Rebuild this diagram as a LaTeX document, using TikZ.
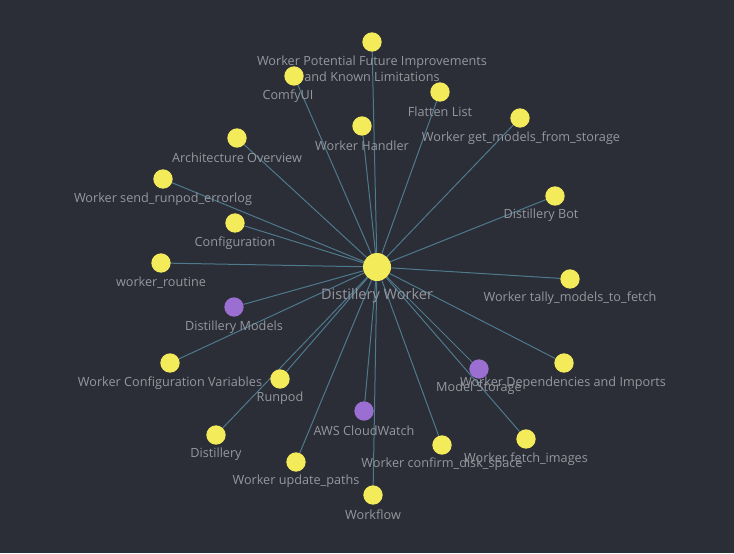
\documentclass[tikz,border=0pt]{standalone}
\usepackage{fontspec}
\setmainfont{Open Sans}
\usepackage{xcolor}
\usepackage{tikz}
\usetikzlibrary{positioning}
\definecolor{bgdark}{HTML}{2B2D37}
\definecolor{edgeblue}{HTML}{4E7A8C}
\definecolor{labelgrey}{HTML}{9698A0}
\definecolor{docyellow}{HTML}{F4EB5A}
\definecolor{grouppurple}{HTML}{9B6ED2}
\pgfdeclarelayer{edges}
\pgfsetlayers{edges,main}
\tikzset{
  doc/.style={circle, fill=docyellow, inner sep=0pt, minimum size=14.5pt},
  grp/.style={doc, fill=grouppurple},
  hub/.style={doc, minimum size=21pt},
  lbl/.style={text=labelgrey, font=\fontsize{9.5}{12}\selectfont, inner sep=0pt, align=center},
  hublbl/.style={lbl, font=\fontsize{10.9}{13}\selectfont},
  link/.style={draw=edgeblue, line width=0.75pt}
}

\begin{document}
\begin{tikzpicture}[x=0.75pt, y=-0.75pt]
\begin{pgfonlayer}{edges}
\fill[bgdark] (0,0) rectangle (734,553);
\end{pgfonlayer}

% hub
\node[hub] (worker) at (377,267) {};
\node[hublbl] (workerL) at (377,296) {Distillery Worker};

% upper half
\node[doc] (future) at (372,42) {};
\node[lbl] (futureL) at (372,69) {Worker Potential Future Improvements\\and Known Limitations};
\node[doc] (comfy) at (294,76) {};
\node[lbl] (comfyL) at (288,96) {ComfyUI};
\node[doc] (flatten) at (440,92) {};
\node[lbl] (flattenL) at (440,112) {Flatten List};
\node[doc] (handler) at (362,126) {};
\node[lbl] (handlerL) at (362,146) {Worker Handler};
\node[doc] (getmodels) at (520,118) {};
\node[lbl] (getmodelsL) at (521,138) {Worker get\_models\_from\_storage};
\node[doc] (arch) at (237,138) {};
\node[lbl] (archL) at (237,158) {Architecture Overview};
\node[doc] (errorlog) at (163,179) {};
\node[lbl] (errorlogL) at (163,199) {Worker send\_runpod\_errorlog};
\node[doc] (bot) at (555,196) {};
\node[lbl] (botL) at (541,215) {Distillery Bot};
\node[doc] (config) at (235,223) {};
\node[lbl] (configL) at (235,243) {Configuration};
\node[doc] (routine) at (161,263) {};
\node[lbl] (routineL) at (161,283) {worker\_routine};
\node[doc] (tally) at (570,279) {};
\node[lbl] (tallyL) at (570,298) {Worker tally\_models\_to\_fetch};

% lower half
\node[grp] (models) at (234,307) {};
\node[lbl] (modelsL) at (234,327) {Distillery Models};
\node[doc] (confvars) at (170,363) {};
\node[lbl] (confvarsL) at (170,383) {Worker Configuration Variables};
\node[doc] (runpod) at (280,379) {};
\node[lbl] (runpodL) at (280,398) {Runpod};
\node[grp] (storage) at (479,369) {};
\node[lbl] (storageL) at (479,388) {Model Storage};
\node[doc] (deps) at (564,363) {};
\node[lbl] (depsL) at (563,383) {Worker Dependencies and Imports};
\node[doc] (distillery) at (216,435) {};
\node[lbl] (distilleryL) at (216,454) {Distillery};
\node[grp] (cloudwatch) at (364,411) {};
\node[lbl] (cloudwatchL) at (364,431) {AWS CloudWatch};
\node[doc] (disk) at (442,445) {};
\node[lbl] (diskL) at (442,464) {Worker confirm\_disk\_space};
\node[doc] (fetch) at (526,439) {};
\node[lbl] (fetchL) at (526,459) {Worker fetch\_images};
\node[doc] (paths) at (296,462) {};
\node[lbl] (pathsL) at (296,481) {Worker update\_paths};
\node[doc] (workflow) at (373,495) {};
\node[lbl] (workflowL) at (373,515) {Workflow};

\begin{pgfonlayer}{edges}
\draw[link] (worker) -- (future);
\draw[link] (worker) -- (comfy);
\draw[link] (worker) -- (flatten);
\draw[link] (worker) -- (handler);
\draw[link] (worker) -- (getmodels);
\draw[link] (worker) -- (arch);
\draw[link] (worker) -- (errorlog);
\draw[link] (worker) -- (bot);
\draw[link] (worker) -- (config);
\draw[link] (worker) -- (routine);
\draw[link] (worker) -- (tally);
\draw[link] (worker) -- (models);
\draw[link] (worker) -- (confvars);
\draw[link] (worker) -- (runpod);
\draw[link] (worker) -- (storage);
\draw[link] (worker) -- (deps);
\draw[link] (worker) -- (distillery);
\draw[link] (worker) -- (cloudwatch);
\draw[link] (worker) -- (disk);
\draw[link] (worker) -- (fetch);
\draw[link] (worker) -- (paths);
\draw[link] (worker) -- (workflow);
\end{pgfonlayer}
\end{tikzpicture}
\end{document}
